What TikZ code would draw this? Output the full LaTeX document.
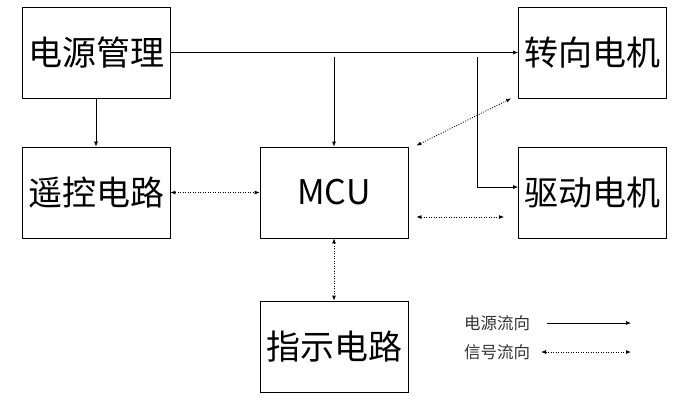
\documentclass[tikz,border=0pt]{standalone}
\usepackage{fontspec}
\setmainfont{Noto Sans CJK SC}
\usetikzlibrary{arrows.meta}

\tikzset{
  blk/.style={draw, line width=0.8pt, minimum width=148pt, minimum height=91pt,
    inner sep=0pt, font=\fontsize{34}{40}\selectfont},
  pwr/.style={line width=0.7pt, -{Latex[length=5pt,width=4pt]}},
  sig/.style={line width=0.8pt, dash pattern=on 1pt off 1.5pt, {Latex[length=5pt,width=4pt]}-{Latex[length=5pt,width=4pt]}},
  key/.style={font=\fontsize{16.5}{19}\selectfont, text=black!80},
}

\begin{document}
\begin{tikzpicture}[x=1pt, y=-1pt]
    \useasboundingbox (0,0) rectangle (676,400);

    \node[blk] (pm) at (96,52.5) {电源管理};
    \node[blk] (rc) at (96,192.5) {遥控电路};
    \node[blk] (mcu) at (334,192.5) {MCU};
    \node[blk] (zx) at (592.5,52.5) {转向电机};
    \node[blk] (qd) at (592.5,192.5) {驱动电机};
    \node[blk] (zs) at (334,346.5) {指示电路};

    % power
    \coordinate (b1) at (334,57);
    \coordinate (b2) at (477,57);
    \draw[pwr] (pm.east) -- (zx.west);
    \draw[pwr] (pm.south) -- (rc.north);
    \draw[pwr] (b1) -- (mcu.north);
    \draw[pwr] (b2) |- ([yshift=5.5]qd.west);

    % signal
    \draw[sig] (rc.east) -- (mcu.west);
    \draw[sig] (mcu.south) -- (zs.north);
    \draw[sig] ([shift={(8,-1)}]mcu.north east) -- ([shift={(-7,0)}]zx.south west);
    \draw[sig] ([shift={(8,24.5)}]mcu.east) -- ([shift={(-14,24.5)}]qd.west);

    % legend
    \node[key] (l1) at (497,323) {电源流向};
    \node[key] (l2) at (497,352) {信号流向};
    \coordinate (a1) at (547,323);
    \coordinate (a2) at (631,323);
    \coordinate (s1) at (541,352);
    \coordinate (s2) at (631,352);
    \draw[pwr] (a1) -- (a2);
    \draw[sig] (s1) -- (s2);
\end{tikzpicture}
\end{document}
